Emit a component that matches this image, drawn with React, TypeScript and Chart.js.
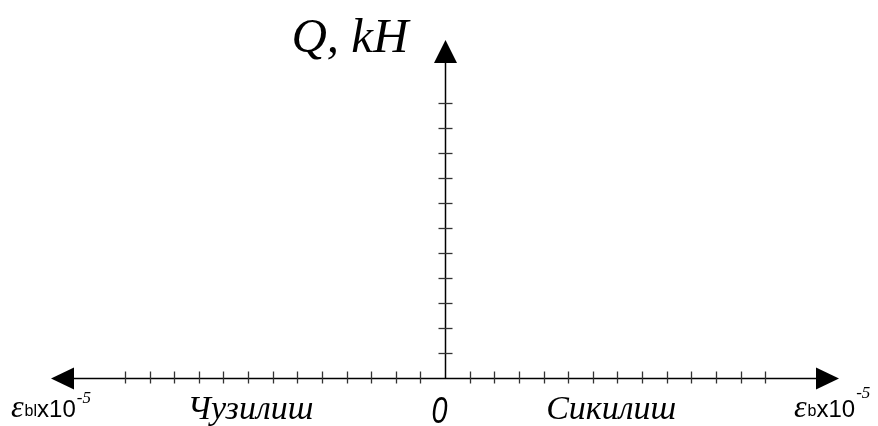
import { useEffect, useRef } from "react";
import { Chart, registerables } from "chart.js";

Chart.register(...registerables);

// ---- data (axis definition) ----
const xTickValues = [-13, -12, -11, -10, -9, -8, -7, -6, -5, -4, -3, -2, -1, 1, 2, 3, 4, 5, 6, 7, 8, 9, 10, 11, 12, 13];
const yTickValues = [1, 2, 3, 4, 5, 6, 7, 8, 9, 10, 11];
const xRange = [-16, 16];
const yRange = [0, 13.5];
const yAxisTitle = "Q, kH";
const leftSideLabel = "Чузилиш";
const rightSideLabel = "Сикилиш";
const originLabel = "0";
const leftAxisSymbol = ["ε", "bl", "x10", "-5"];
const rightAxisSymbol = ["ε", "b", "x10", "-5"];

const axesPlugin = {
  id: "customAxes",
  afterDraw(chart: any) {
    const ctx = chart.ctx as CanvasRenderingContext2D;
    const xs = chart.scales.x;
    const ys = chart.scales.y;
    const ox = Math.round(xs.getPixelForValue(0)) + 0.5;
    const oy = Math.round(ys.getPixelForValue(0)) + 0.5;
    const xl = xs.getPixelForValue(xRange[0]);
    const xr = xs.getPixelForValue(xRange[1]);
    const yt = ys.getPixelForValue(yRange[1]);
    const ah = 23;
    const aw = 11;

    ctx.save();
    ctx.strokeStyle = "#000";
    ctx.fillStyle = "#000";
    ctx.lineWidth = 1.5;

    ctx.beginPath();
    ctx.moveTo(xl + ah - 1, oy);
    ctx.lineTo(xr - ah + 1, oy);
    ctx.stroke();

    ctx.beginPath();
    ctx.moveTo(ox, oy);
    ctx.lineTo(ox, yt + ah - 1);
    ctx.stroke();

    // arrows
    ctx.beginPath();
    ctx.moveTo(xl, oy);
    ctx.lineTo(xl + ah, oy - aw);
    ctx.lineTo(xl + ah, oy + aw);
    ctx.closePath();
    ctx.fill();

    ctx.beginPath();
    ctx.moveTo(xr, oy);
    ctx.lineTo(xr - ah, oy - aw);
    ctx.lineTo(xr - ah, oy + aw);
    ctx.closePath();
    ctx.fill();

    ctx.beginPath();
    ctx.moveTo(ox, yt);
    ctx.lineTo(ox - aw - 0.5, yt + ah);
    ctx.lineTo(ox + aw + 0.5, yt + ah);
    ctx.closePath();
    ctx.fill();

    // ticks
    ctx.strokeStyle = "#333";
    ctx.lineWidth = 1.3;
    for (const v of xTickValues) {
      const px = Math.round(xs.getPixelForValue(v)) + 0.5;
      ctx.beginPath();
      ctx.moveTo(px, oy - 7);
      ctx.lineTo(px, oy + 5);
      ctx.stroke();
    }
    for (const v of yTickValues) {
      const py = Math.round(ys.getPixelForValue(v)) + 0.5;
      ctx.beginPath();
      ctx.moveTo(ox - 7, py);
      ctx.lineTo(ox + 7, py);
      ctx.stroke();
    }

    // texts
    ctx.fillStyle = "#000";
    ctx.textBaseline = "alphabetic";

    ctx.textAlign = "right";
    ctx.font = "italic 49px 'Liberation Serif'";
    ctx.fillText(yAxisTitle, ox - 37, 52);

    ctx.textAlign = "center";
    ctx.font = "italic 34px 'Liberation Serif'";
    ctx.fillText(leftSideLabel, xs.getPixelForValue(-7.9), 419);
    ctx.fillText(rightSideLabel, xs.getPixelForValue(6.75), 419);

    ctx.save();
    ctx.translate(ox - 6, 423);
    ctx.scale(0.8, 1);
    ctx.font = "italic 36px 'Liberation Sans'";
    ctx.fillText(originLabel, 0, 0);
    ctx.restore();

    const drawSymbol = (parts: string[], x0: number, supY: number) => {
      ctx.textAlign = "left";
      let x = x0;
      ctx.font = "italic 32px 'Liberation Serif'";
      ctx.fillText(parts[0], x, 417);
      x += ctx.measureText(parts[0]).width + 1;
      ctx.font = "16px 'Liberation Sans'";
      ctx.fillText(parts[1], x, 416);
      x += ctx.measureText(parts[1]).width;
      ctx.font = "24px 'Liberation Sans'";
      ctx.fillText(parts[2], x, 417);
      x += ctx.measureText(parts[2]).width + 1;
      ctx.font = "italic 17px 'Liberation Serif'";
      ctx.fillText(parts[3], x, supY);
    };
    drawSymbol(leftAxisSymbol, 11, 403);
    drawSymbol(rightAxisSymbol, 794, 398);

    ctx.restore();
  },
};

export default function App() {
  const ref = useRef<HTMLCanvasElement | null>(null);
  useEffect(() => {
    if (!ref.current) return;
    const chart = new Chart(ref.current, {
      type: "scatter",
      data: { datasets: [{ data: [] }] },
      options: {
        responsive: true,
        maintainAspectRatio: false,
        animation: false,
        layout: { padding: { left: 51, right: 39, top: 40, bottom: 48 } },
        plugins: { legend: { display: false }, tooltip: { enabled: false } },
        scales: {
          x: { type: "linear", min: xRange[0], max: xRange[1], display: false },
          y: { type: "linear", min: yRange[0], max: yRange[1], display: false },
        },
      },
      plugins: [axesPlugin],
    });
    return () => chart.destroy();
  }, []);
  return (
    <div style={{ position: "fixed", left: 0, top: 0, width: 878, height: 426, background: "#fff" }}>
      <canvas ref={ref} />
    </div>
  );
}
